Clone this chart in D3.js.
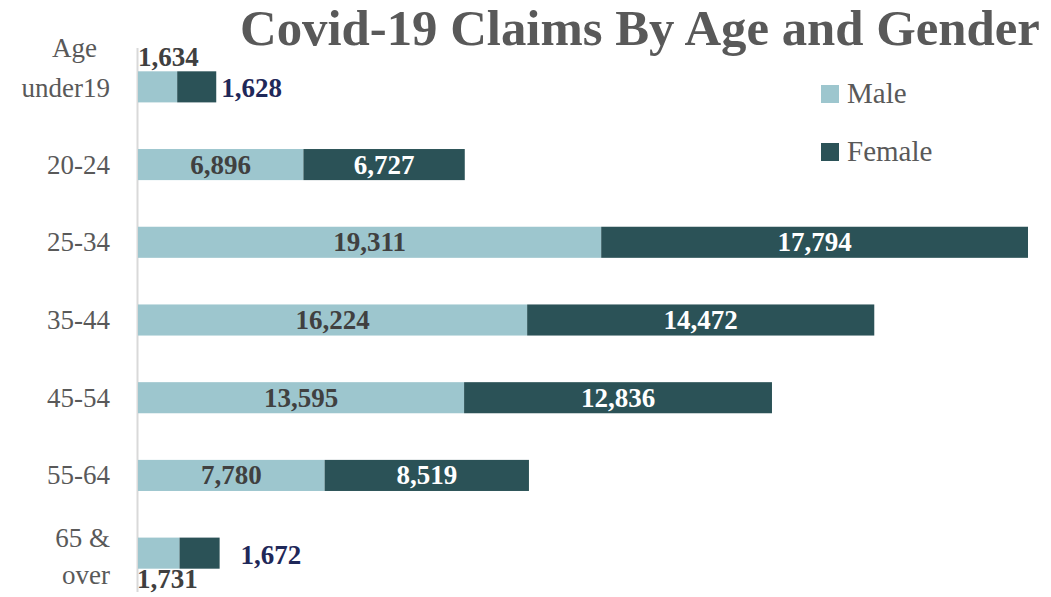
<!DOCTYPE html>
<html><head><meta charset="utf-8">
<script src="https://cdn.jsdelivr.net/npm/d3@7"></script>
<style>body{margin:0;background:#fff}svg{display:block}text{font-family:"Liberation Serif","DejaVu Serif",serif}</style>
</head><body>
<svg id="c" width="1051" height="597"></svg>
<script>
const categories = ["Age under19","20-24","25-34","35-44","45-54","55-64","65 & over"];
const categoryLines = [["Age","under19"],["20-24"],["25-34"],["35-44"],["45-54"],["55-64"],["65 &","over"]];
const male =   [1634, 6896, 19311, 16224, 13595, 7780, 1731];
const female = [1628, 6727, 17794, 14472, 12836, 8519, 1672];
const seriesNames = ["Male","Female"];
const colors = ["#9DC6CE","#2B5257"];

const svg = d3.select("#c");
const x = d3.scaleLinear().domain([0, d3.max(male.map((m,i)=>m+female[i]))]).range([138, 1028]);
const y = d3.scaleBand().domain(categories).range([48, 592]).paddingInner(0.6).paddingOuter(0.3);

function fit(sel, w){ const n=sel.node(); const l=n.getComputedTextLength(); const fs=parseFloat(sel.attr("font-size")); sel.attr("font-size", fs*w/l); }

// title
const t = svg.append("text").attr("x",240).attr("y",45).attr("font-size",48).attr("font-weight","bold").attr("fill","#595959").text("Covid-19 Claims By Age and Gender");
fit(t, 800);

// axis line
svg.append("line").attr("x1",137.5).attr("x2",137.5).attr("y1",48).attr("y2",592).attr("stroke","#d9d9d9").attr("stroke-width",2);

// bars
const g = svg.append("g");
categories.forEach((c,i)=>{
  const y0 = y(c), h = y.bandwidth();
  g.append("rect").attr("x",x(0)).attr("y",y0).attr("width",x(male[i])-x(0)).attr("height",h).attr("fill",colors[0]);
  g.append("rect").attr("x",x(male[i])).attr("y",y0).attr("width",x(male[i]+female[i])-x(male[i])).attr("height",h).attr("fill",colors[1]);
});

const fmt = d3.format(",");
const lfs = 27;
categories.forEach((c,i)=>{
  const y0 = y(c), h = y.bandwidth(), cy = y0 + h/2;
  const small = (x(male[i])-x(0)) < 60;
  if (!small) {
    svg.append("text").attr("x",(x(0)+x(male[i]))/2).attr("y",cy+9).attr("text-anchor","middle").attr("font-size",lfs).attr("font-weight","bold").attr("fill","#404040").text(fmt(male[i]));
    svg.append("text").attr("x",(x(male[i])+x(male[i]+female[i]))/2).attr("y",cy+9).attr("text-anchor","middle").attr("font-size",lfs).attr("font-weight","bold").attr("fill","#ffffff").text(fmt(female[i]));
  } else if (i===0) {
    svg.append("text").attr("x",x(0)).attr("y",y0-5).attr("font-size",lfs).attr("font-weight","bold").attr("fill","#404040").text(fmt(male[i]));
    svg.append("text").attr("x",x(male[i]+female[i])+5).attr("y",cy+10).attr("font-size",lfs).attr("font-weight","bold").attr("fill","#1F2859").text(fmt(female[i]));
  } else {
    svg.append("text").attr("x",x(0)-1).attr("y",y0+h+19).attr("font-size",lfs).attr("font-weight","bold").attr("fill","#404040").text(fmt(male[i]));
    svg.append("text").attr("x",x(male[i]+female[i])+21).attr("y",cy+11).attr("font-size",lfs).attr("font-weight","bold").attr("fill","#1F2859").text(fmt(female[i]));
  }
  // category labels
  const lines = categoryLines[i];
  const txt = svg.append("text").attr("text-anchor","end").attr("font-size",27).attr("fill","#595959");
  if (lines.length===1) {
    txt.append("tspan").attr("x",110).attr("y",cy+9).text(lines[0]);
  } else if (i===0) {
    txt.append("tspan").attr("x",97).attr("y",cy-30).text(lines[0]);
    txt.append("tspan").attr("x",110).attr("y",cy+10).text(lines[1]);
  } else {
    txt.append("tspan").attr("x",110).attr("y",cy-6).text(lines[0]);
    txt.append("tspan").attr("x",110).attr("y",cy+31).text(lines[1]);
  }
});

// legend
seriesNames.forEach((s,i)=>{
  const ly = 85 + i*58;
  svg.append("rect").attr("x",821).attr("y",ly).attr("width",18).attr("height",18).attr("fill",colors[i]);
  svg.append("text").attr("x",847).attr("y",ly+18).attr("font-size",29).attr("fill","#595959").text(s);
});
</script>
</body></html>
